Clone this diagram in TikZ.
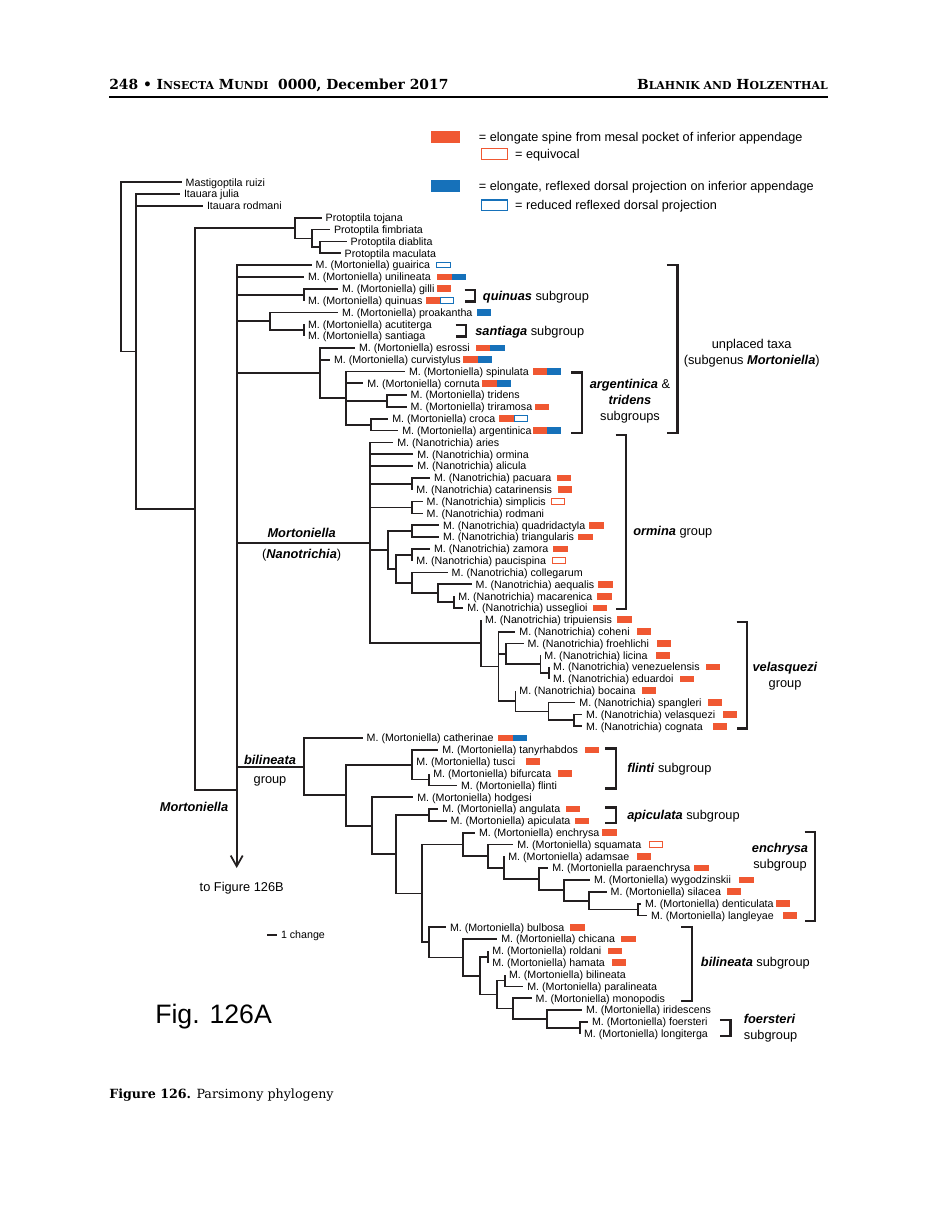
\documentclass[tikz,border=0pt]{standalone}
\usepackage{fontspec}
\setmainfont{DejaVu Serif}
\setsansfont{Liberation Sans}
\usetikzlibrary{arrows.meta, positioning, calc}

\definecolor{spineorange}{RGB}{240, 88, 50}
\definecolor{dorsalblue}{RGB}{22, 113, 186}
\definecolor{treeblack}{RGB}{35, 31, 32}

\newcommand{\bi}[1]{\textbf{\textit{#1}}}
\newcommand{\fsc}[2]{#1{\fontsize{8.2}{9}\selectfont #2}}

% internal node: [middle children]{name}{x}{first child}{last child}
\newcommand{\clade}[5][]{%
  \path ($(#4)!0.5!(#5)$) coordinate (#2mid);
  \coordinate (#2) at (#3,0 |- #2mid);
  \draw[branch] (#2) |- (#4);
  \draw[branch] (#2) |- (#5);
  \ifx\relax#1\relax\else
    \foreach \c in {#1} {\draw[branch] (#2) |- (\c);}
  \fi
}

\tikzset{
  branch/.style={draw=treeblack, line width=1.3pt},
  bracket/.style={draw=treeblack, line width=1.8pt},
  taxon/.style={anchor=west, inner xsep=3pt, inner ysep=0pt, outer sep=0pt,
    text height=5.75pt, text depth=0pt, font=\sffamily\fontsize{8}{9.6}\selectfont},
  charbox/.style={rectangle, anchor=west, inner sep=0pt, outer sep=0pt,
    minimum width=10.7pt, minimum height=5pt},
  spine/.style={charbox, fill=spineorange},
  dorsal/.style={charbox, fill=dorsalblue},
  spineeq/.style={charbox, draw=spineorange, fill=white, line width=0.75pt,
    minimum width=10pt, minimum height=4.3pt},
  dorsalred/.style={charbox, draw=dorsalblue, fill=white, line width=0.75pt,
    minimum width=10pt, minimum height=4.3pt},
  legbox/.style={rectangle, inner sep=0pt, outer sep=0pt,
    minimum width=21.75pt, minimum height=8.75pt},
  legopen/.style={rectangle, inner sep=0pt, outer sep=0pt, fill=white, line width=1.1pt,
    minimum width=19.6pt, minimum height=8.2pt},
  legtext/.style={anchor=west, inner sep=0pt, text height=6.8pt, text depth=0pt,
    font=\sffamily\fontsize{9.5}{11}\selectfont},
  grp/.style={inner sep=0pt, font=\sffamily\fontsize{9.6}{12}\selectfont},
  grpline/.style={grp, anchor=west, text height=6.9pt, text depth=0pt}
}

\begin{document}
\begin{tikzpicture}[x=0.75pt, y=-0.75pt]
\fill[white] (0,0) rectangle (938,1212);
\useasboundingbox (0,0) rectangle (938,1212);

% Running head
\node[anchor=base west, inner sep=0pt, font=\bfseries\fontsize{10.4}{12}\selectfont]
  (headleft) at (109,90) {248 \textbullet\ \fsc{I}{NSECTA} \fsc{M}{UNDI}\ \ 0000, December 2017};
\node[anchor=base east, inner sep=0pt, font=\bfseries\fontsize{10.4}{12}\selectfont]
  (headright) at (828,90) {\fsc{B}{LAHNIK AND} \fsc{H}{OLZENTHAL}};
\draw[line width=0.9pt] (109,97) -- (828,97);

% Legend
\node[legbox, fill=spineorange] (lgspine) at (445.5,136.8) {};
\node[legtext, right=14pt of lgspine] (lgspinetxt) {= elongate spine from mesal pocket of inferior appendage};
\node[legopen, draw=spineorange] (lgequiv) at (494.5,153.8) {};
\node[legtext, right=5.5pt of lgequiv] (lgequivtxt) {= equivocal};
\node[legbox, fill=dorsalblue] (lgdorsal) at (445.5,186.3) {};
\node[legtext, right=14pt of lgdorsal] (lgdorsaltxt) {= elongate, reflexed dorsal projection on inferior appendage};
\node[legopen, draw=dorsalblue] (lgreduced) at (494.5,205.3) {};
\node[legtext, right=5.5pt of lgreduced] (lgreducedtxt) {= reduced reflexed dorsal projection};

% Terminal taxa, one row each
\foreach \k/\e/\txt [count=\r] in {
  ruizi/181.7/Mastigoptila ruizi,
  julia/180/Itauara julia,
  irodmani/203/Itauara rodmani,
  tojana/321.7/Protoptila tojana,
  fimbriata/330/Protoptila fimbriata,
  diablita/346.7/Protoptila diablita,
  maculata/340.7/Protoptila maculata,
  guairica/311.7/M. (Mortoniella) guairica,
  unilineata/304/M. (Mortoniella) unilineata,
  gilli/338/M. (Mortoniella) gilli,
  quinuas/304/M. (Mortoniella) quinuas,
  proakantha/338/M. (Mortoniella) proakantha,
  acutiterga/304/M. (Mortoniella) acutiterga,
  santiaga/304/M. (Mortoniella) santiaga,
  esrossi/355/M. (Mortoniella) esrossi,
  curvistylus/330/M. (Mortoniella) curvistylus,
  spinulata/405/M. (Mortoniella) spinulata,
  cornuta/363.3/M. (Mortoniella) cornuta,
  tridens/406.7/M. (Mortoniella) tridens,
  triramosa/406.7/M. (Mortoniella) triramosa,
  croca/388.3/M. (Mortoniella) croca,
  argentinica/398.3/M. (Mortoniella) argentinica,
  aries/393.3/M. (Nanotrichia) aries,
  ormina/413.3/M. (Nanotrichia) ormina,
  alicula/413.3/M. (Nanotrichia) alicula,
  pacuara/430/M. (Nanotrichia) pacuara,
  catarinensis/412.3/M. (Nanotrichia) catarinensis,
  simplicis/422.7/M. (Nanotrichia) simplicis,
  nrodmani/422.7/M. (Nanotrichia) rodmani,
  quadridactyla/439/M. (Nanotrichia) quadridactyla,
  triangularis/439/M. (Nanotrichia) triangularis,
  zamora/430/M. (Nanotrichia) zamora,
  paucispina/412.3/M. (Nanotrichia) paucispina,
  collegarum/447.7/M. (Nanotrichia) collegarum,
  aequalis/471.7/M. (Nanotrichia) aequalis,
  macarenica/454.3/M. (Nanotrichia) macarenica,
  usseglioi/463.3/M. (Nanotrichia) usseglioi,
  tripuiensis/481/M. (Nanotrichia) tripuiensis,
  coheni/515.4/M. (Nanotrichia) coheni,
  froehlichi/523.5/M. (Nanotrichia) froehlichi,
  licina/540.4/M. (Nanotrichia) licina,
  venezuelensis/549.2/M. (Nanotrichia) venezuelensis,
  eduardoi/549.2/M. (Nanotrichia) eduardoi,
  bocaina/515.4/M. (Nanotrichia) bocaina,
  spangleri/575.4/M. (Nanotrichia) spangleri,
  velasquezi/582/M. (Nanotrichia) velasquezi,
  cognata/582/M. (Nanotrichia) cognata,
  catherinae/362.7/M. (Mortoniella) catherinae,
  tanyrhabdos/438.3/M. (Mortoniella) tanyrhabdos,
  tusci/412.3/M. (Mortoniella) tusci,
  bifurcata/429.3/M. (Mortoniella) bifurcata,
  flinti/457/M. (Mortoniella) flinti,
  hodgesi/413.3/M. (Mortoniella) hodgesi,
  angulata/438.3/M. (Mortoniella) angulata,
  apiculata/446.7/M. (Mortoniella) apiculata,
  enchrysa/475/M. (Mortoniella) enchrysa,
  squamata/513.3/M. (Mortoniella) squamata,
  adamsae/504.3/M. (Mortoniella) adamsae,
  paraenchrysa/548.3/M. (Mortoniella paraenchrysa,
  wygodzinskii/590/M. (Mortoniella) wygodzinskii,
  silacea/606.7/M. (Mortoniella) silacea,
  denticulata/641/M. (Mortoniella) denticulata,
  langleyae/647/M. (Mortoniella) langleyae,
  bulbosa/446/M. (Mortoniella) bulbosa,
  chicana/497.3/M. (Mortoniella) chicana,
  roldani/488.3/M. (Mortoniella) roldani,
  hamata/488.3/M. (Mortoniella) hamata,
  bilineata/505/M. (Mortoniella) bilineata,
  paralineata/523.3/M. (Mortoniella) paralineata,
  monopodis/531.7/M. (Mortoniella) monopodis,
  iridescens/582/M. (Mortoniella) iridescens,
  foersteri/588/M. (Mortoniella) foersteri,
  longiterga/580/M. (Mortoniella) longiterga}
  \node[taxon] (\k) at (\e,{182.3+(\r-1)*11.825}) {\txt};

% Protoptila
\clade{nP3}{320}{diablita}{maculata}
\clade{nP2}{312}{fimbriata}{nP3}
\clade{nP}{295}{tojana}{nP2}

% unplaced taxa
\clade{nQ}{304}{gilli}{quinuas}
\clade{nS2}{304}{acutiterga}{santiaga}
\clade{nS1}{270}{proakantha}{nS2}
\clade{nT}{387.3}{tridens}{triramosa}
\clade{nC}{371}{croca}{argentinica}
\clade[cornuta,nT]{nA2}{345.7}{spinulata}{nC}
\clade[curvistylus]{nA}{320}{esrossi}{nA2}

% Nanotrichia
\clade{nN1}{412.3}{pacuara}{catarinensis}
\clade{nN2}{412.3}{simplicis}{nrodmani}
\clade{nN4}{412.3}{quadridactyla}{triangularis}
\clade{nN6}{412.3}{zamora}{paucispina}
\clade{nN9}{454.3}{macarenica}{usseglioi}
\clade{nN8}{437.7}{aequalis}{nN9}
\clade{nN7}{412.3}{collegarum}{nN8}
\clade{nN5}{396}{nN6}{nN7}
\clade{nN3}{387.7}{nN4}{nN5}
\clade{nV4}{549.2}{venezuelensis}{eduardoi}
\clade{nV3}{540.4}{licina}{nV4}
\clade{nV2}{506}{froehlichi}{nV3}
\clade{nV7}{574.2}{velasquezi}{cognata}
\clade{nV6}{548.5}{spangleri}{nV7}
\clade{nV5}{515.4}{bocaina}{nV6}
\clade[nV2]{nV1}{498.5}{coheni}{nV5}
\clade{nV}{481}{tripuiensis}{nV1}
\clade[ormina,alicula,nN1,nN2,nN3]{nN}{370}{aries}{nV}

% bilineata group
\clade{nF2}{429.3}{bifurcata}{flinti}
\clade[tusci]{nF}{412.3}{tanyrhabdos}{nF2}
\clade{nAp}{429.3}{angulata}{apiculata}
\clade{nE7}{638.3}{denticulata}{langleyae}
\clade{nE6}{589}{silacea}{nE7}
\clade{nE5}{564}{wygodzinskii}{nE6}
\clade{nE4}{539}{paraenchrysa}{nE5}
\clade{nE3}{504.3}{adamsae}{nE4}
\clade{nE2}{487.7}{squamata}{nE3}
\clade{nE}{462.7}{enchrysa}{nE2}
\clade{nBi9}{580}{foersteri}{longiterga}
\clade{nBi8}{546.7}{iridescens}{nBi9}
\clade{nBi7}{513.3}{monopodis}{nBi8}
\clade{nBi6}{505}{bilineata}{paralineata}
\clade{nBi5}{496.7}{nBi6}{nBi7}
\clade{nBi4}{488.3}{roldani}{hamata}
\clade{nBi3}{480}{nBi4}{nBi5}
\clade{nBi2}{462.7}{chicana}{nBi3}
\clade{nBi}{429}{bulbosa}{nBi2}
\clade{nB4}{421.7}{nE}{nBi}
\clade{nB3}{396}{nAp}{nB4}
\clade{nB2}{371.7}{hodgesi}{nB3}
\clade{nB1}{345.7}{nF}{nB2}
\clade{nB}{304}{catherinae}{nB1}

% Mortoniella and the root
\coordinate (nM) at (236.7,790);
\foreach \c in {guairica,unilineata,nQ,nS1,nA,nN,nB}
  \draw[branch] (nM) |- (\c);
\coordinate (tip126B) at (236.7,868);
\draw[branch, -{Straight Barb[length=8pt, width=9pt]}] (nM) -- (tip126B);
\clade{nG}{194.7}{nP}{nM}
\clade[irodmani]{nI}{135.7}{julia}{nG}
\clade{nR}{121}{ruizi}{nI}

% Character marks
\foreach \k/\bx in {gilli/436.7, triramosa/535, pacuara/556.7, catarinensis/557.7,
    quadridactyla/589.3, triangularis/578.3, zamora/553.3, aequalis/598.3,
    macarenica/597.3, usseglioi/592.7, tripuiensis/617.3, coheni/637,
    froehlichi/657, licina/655.8, venezuelensis/706, eduardoi/680,
    bocaina/641.5, spangleri/708, velasquezi/723, cognata/712.7,
    tanyrhabdos/585, tusci/525.7, bifurcata/557.7, angulata/566,
    apiculata/575, enchrysa/602.3, adamsae/636.7, paraenchrysa/694.3,
    wygodzinskii/739.3, silacea/726.7, denticulata/776, langleyae/782.7,
    bulbosa/570.4, chicana/621.4, roldani/607.9, hamata/611.8}
  \node[spine] (\k-sp) at (\bx,0 |- \k) {};
\foreach \k/\bx in {unilineata/437.3, esrossi/476, curvistylus/463.3, spinulata/532.7,
    cornuta/482.3, argentinica/532.7, catherinae/498.3} {
  \node[spine] (\k-sp) at (\bx,0 |- \k) {};
  \node[dorsal, right=0pt of \k-sp] (\k-dp) {};
}
\foreach \k/\bx in {quinuas/425.7, croca/499.3} {
  \node[spine] (\k-sp) at (\bx,0 |- \k) {};
  \node[dorsalred, right=0.4pt of \k-sp] (\k-dp) {};
}
\foreach \k/\bx in {simplicis/551, paucispina/552.3, squamata/649}
  \node[spineeq] (\k-sp) at (\bx,0 |- \k) {};
\node[dorsal] (proakantha-dp) at (476.7,0 |- proakantha) {};
\node[dorsalred] (guairica-dp) at (436.7,0 |- guairica) {};

% Group brackets
\foreach \bx/\ta/\tb in {475/290/301.7, 466/325/336.3, 677.3/265/432.7,
    581.7/372.3/432.7, 626/435/609, 747/621.7/728.3, 615.7/748.3/788.3,
    615.7/807.3/822.7, 815/831.7/920.7, 691.8/926.7/1000.7, 730.4/1020/1036}
  \draw[bracket] (\bx-10.5,\ta) -| (\bx,\tb) -- (\bx-10.5,\tb);

% Group labels
\node[grpline] (lbquin) at (482.7,295.5) {\bi{quinuas} subgroup};
\node[grpline] (lbsant) at (475,330.5) {\bi{santiaga} subgroup};
\node[grp, align=center] (lbunpl) at (751.7,352.9) {unplaced taxa\\(subgenus \bi{Mortoniella})};
\node[grp, align=center] (lbargt) at (630,400.8) {\bi{argentinica} \&\\\bi{tridens}\\subgroups};
\node[grpline] (lbormi) at (633,531) {\bi{ormina} group};
\node[grp, align=center] (lbvela) at (785,676.5) {\bi{velasquezi}\\group};
\node[grpline] (lbflin) at (627,768) {\bi{flinti} subgroup};
\node[grpline] (lbapic) at (627,814.5) {\bi{apiculata} subgroup};
\node[grp, align=center] (lbench) at (780,857) {\bi{enchrysa}\\subgroup};
\node[grpline] (lbbili) at (700.7,961.7) {\bi{bilineata} subgroup};
\node[grp, align=left, anchor=west] (lbfoer) at (743.6,1027.9) {\bi{foersteri}\\subgroup};
\node[grpline, anchor=center] (lbmort) at (301.7,533.3) {\bi{Mortoniella}};
\node[grpline, anchor=center] (lbnano) at (301.7,554) {(\bi{Nanotrichia})};
\node[grpline, anchor=center] (lbbgrp) at (270,759.7) {\bi{bilineata}};
\node[grpline, anchor=center] (lbbgrp2) at (270,779.3) {group};
\node[grpline, anchor=center] (lbgenus) at (194,807) {\bi{Mortoniella}};
\node[grpline, anchor=center] (lbto) at (241.7,886.7) {to Figure 126B};

% Scale bar
\coordinate (bar0) at (267,935);
\coordinate (bar1) at (277,935);
\draw[branch] (bar0) -- (bar1);
\node[taxon] (lbchange) at (bar1) {1 change};

% Figure label and caption
\node[anchor=base west, inner sep=0pt, font=\sffamily\fontsize{20}{24}\selectfont]
  (figlabel) at (155,1023) {Fig. 126A};
\node[anchor=base west, inner sep=0pt, font=\fontsize{9.5}{11}\selectfont]
  (caption) at (109,1098) {\textbf{Figure 126.} Parsimony phylogeny};
\end{tikzpicture}
\end{document}
